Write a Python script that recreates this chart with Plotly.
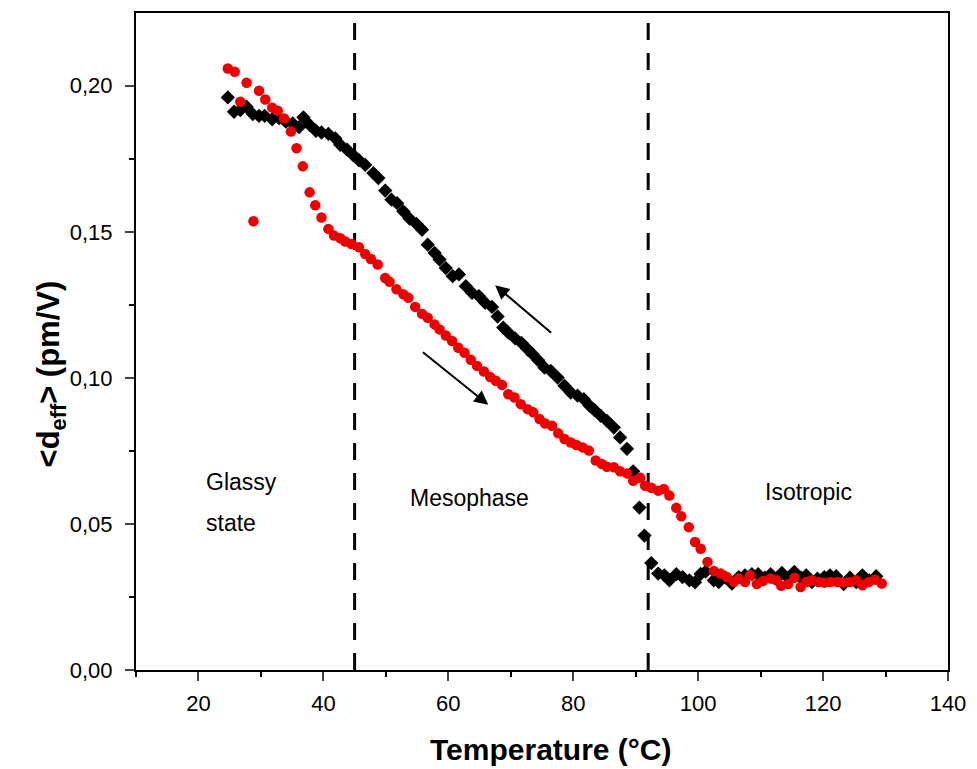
import plotly.graph_objects as go

# Cooling run (black diamonds): temperature (°C) and <d_eff> (pm/V)
cool_T = [24.7, 25.7, 26.7, 27.7, 28.7, 29.7, 30.6, 31.8, 32.9, 34.0, 35.1, 36.1, 36.8, 37.8,
          38.8, 39.7, 40.8, 41.9, 42.7, 43.8, 44.8, 45.7, 46.7, 48.0, 48.8, 49.9, 50.9, 51.8,
          52.8, 53.8, 54.9, 55.8, 56.7, 57.8, 58.6, 59.6, 60.7, 61.7, 62.8, 63.8, 64.9, 65.9,
          67.0, 67.9, 68.8, 69.6, 70.7, 71.7, 72.7, 73.5, 74.4, 75.4, 76.4, 77.5, 78.6, 79.6,
          80.7, 81.7, 82.6, 83.4, 84.4, 85.4, 86.5, 87.5, 88.6, 89.6, 90.6, 91.4, 92.5, 93.6,
          94.6, 95.4, 96.5, 97.5, 98.6, 99.5, 100.4, 101.2, 102.5, 103.3, 104.4, 105.4, 106.5,
          107.5, 108.6, 109.6, 110.7, 111.6, 112.5, 113.4, 114.4, 115.4, 116.5, 117.3, 118.2,
          119.1, 120.2, 121.1, 122.1, 123.3, 124.3, 125.3, 126.3, 127.4, 128.5]
cool_d = [0.1960, 0.1911, 0.1917, 0.1928, 0.1903, 0.1897, 0.1897, 0.1885, 0.1889, 0.1877, 0.1871,
          0.1858, 0.1892, 0.1866, 0.1846, 0.1840, 0.1835, 0.1820, 0.1798, 0.1781, 0.1762, 0.1745,
          0.1729, 0.1701, 0.1684, 0.1641, 0.1610, 0.1598, 0.1570, 0.1545, 0.1527, 0.1507, 0.1456,
          0.1428, 0.1405, 0.1376, 0.1348, 0.1354, 0.1314, 0.1291, 0.1280, 0.1257, 0.1243, 0.1210,
          0.1172, 0.1155, 0.1135, 0.1120, 0.1098, 0.1081, 0.1060, 0.1035, 0.1024, 0.1001, 0.0973,
          0.0950, 0.0939, 0.0927, 0.0905, 0.0890, 0.0870, 0.0853, 0.0830, 0.0796, 0.0757, 0.0680,
          0.0556, 0.0460, 0.0366, 0.0330, 0.0324, 0.0307, 0.0328, 0.0318, 0.0307, 0.0300, 0.0329,
          0.0337, 0.0307, 0.0301, 0.0316, 0.0296, 0.0318, 0.0324, 0.0328, 0.0328, 0.0316, 0.0328,
          0.0313, 0.0332, 0.0316, 0.0336, 0.0316, 0.0324, 0.0301, 0.0313, 0.0318, 0.0324, 0.0321,
          0.0294, 0.0316, 0.0301, 0.0324, 0.0307, 0.0321]

# Heating run (red circles)
heat_T = [24.7, 25.8, 26.7, 27.7, 28.8, 29.7, 30.7, 31.8, 32.7, 33.7, 34.8, 35.7, 36.7, 37.8,
          38.7, 39.7, 40.8, 41.7, 42.7, 43.5, 44.5, 45.7, 46.7, 47.6, 48.7, 49.9, 50.6, 51.7,
          52.8, 53.6, 54.7, 55.8, 56.7, 57.8, 58.6, 59.6, 60.6, 61.6, 62.6, 63.6, 64.6, 65.7,
          66.7, 67.6, 68.6, 69.6, 70.6, 71.6, 72.7, 73.6, 74.6, 75.5, 76.6, 77.6, 78.6, 79.6,
          80.5, 81.5, 82.5, 83.6, 84.6, 85.4, 86.5, 87.5, 88.6, 89.6, 90.7, 91.5, 92.5, 93.6,
          94.5, 95.4, 96.5, 97.3, 98.5, 99.5, 100.4, 101.5, 102.5, 103.6, 104.6, 105.7, 106.5,
          107.5, 108.3, 109.4, 110.4, 111.6, 112.5, 113.3, 114.4, 115.4, 116.4, 117.3, 118.2,
          119.3, 120.2, 121.2, 122.3, 123.2, 124.3, 125.3, 126.3, 127.3, 128.3, 129.4]
heat_d = [0.2059, 0.2048, 0.1945, 0.2010, 0.1536, 0.1983, 0.1953, 0.1925, 0.1914, 0.1888, 0.1843,
          0.1786, 0.1724, 0.1635, 0.1591, 0.1549, 0.1510, 0.1487, 0.1478, 0.1467, 0.1458, 0.1447,
          0.1424, 0.1407, 0.1388, 0.1342, 0.1329, 0.1303, 0.1286, 0.1274, 0.1243, 0.1219, 0.1206,
          0.1183, 0.1166, 0.1145, 0.1126, 0.1103, 0.1086, 0.1062, 0.1041, 0.1022, 0.1003, 0.0990,
          0.0976, 0.0944, 0.0933, 0.0910, 0.0893, 0.0882, 0.0859, 0.0844, 0.0836, 0.0810, 0.0791,
          0.0779, 0.0770, 0.0762, 0.0751, 0.0717, 0.0705, 0.0696, 0.0694, 0.0680, 0.0673, 0.0648,
          0.0658, 0.0631, 0.0624, 0.0614, 0.0620, 0.0597, 0.0555, 0.0526, 0.0489, 0.0438, 0.0415,
          0.0370, 0.0339, 0.0330, 0.0318, 0.0301, 0.0313, 0.0301, 0.0324, 0.0294, 0.0305, 0.0313,
          0.0307, 0.0288, 0.0294, 0.0316, 0.0284, 0.0301, 0.0307, 0.0301, 0.0299, 0.0301, 0.0301,
          0.0299, 0.0301, 0.0307, 0.0290, 0.0301, 0.0309, 0.0296]

# Phase boundaries (°C)
transitions = [45, 92]

x_ticks = [20, 40, 60, 80, 100, 120, 140]
y_ticks = [0.00, 0.05, 0.10, 0.15, 0.20]

FONT = "Liberation Sans, Arial, sans-serif"

fig = go.Figure()

fig.add_trace(go.Scatter(
    x=cool_T, y=cool_d, mode="markers",
    marker=dict(symbol="diamond", size=11, color="black", line=dict(width=0)),
    showlegend=False, cliponaxis=False))
fig.add_trace(go.Scatter(
    x=heat_T, y=heat_d, mode="markers",
    marker=dict(symbol="circle", size=10.5, color="#ee0000", line=dict(width=0)),
    showlegend=False, cliponaxis=False))

for t in transitions:
    fig.add_shape(type="line", x0=t, x1=t, y0=0, y1=1, xref="x", yref="paper",
                  line=dict(color="black", width=3, dash="17px,13px"), layer="below")

# Region labels
region_font = dict(size=23, color="black", family=FONT)
fig.add_annotation(x=20.9, y=0.0645, text="Glassy", showarrow=False, xanchor="left",
                   font=region_font)
fig.add_annotation(x=20.9, y=0.0502, text="state", showarrow=False, xanchor="left",
                   font=region_font)
fig.add_annotation(x=53.6, y=0.0590, text="Mesophase", showarrow=False, xanchor="left",
                   font=region_font)
fig.add_annotation(x=110.4, y=0.0608, text="Isotropic", showarrow=False, xanchor="left",
                   font=region_font)

# Direction arrows: cooling (up-left) and heating (down-right)
fig.add_annotation(x=67.5, y=0.1317, ax=76.7, ay=0.1150, xref="x", yref="y",
                   axref="x", ayref="y", text="", showarrow=True,
                   arrowhead=2, arrowsize=1.4, arrowwidth=2, arrowcolor="black")
fig.add_annotation(x=66.4, y=0.0908, ax=55.7, ay=0.1092, xref="x", yref="y",
                   axref="x", ayref="y", text="", showarrow=True,
                   arrowhead=2, arrowsize=1.4, arrowwidth=2, arrowcolor="black")

# Axis titles
fig.add_annotation(x=-0.105, y=0.451, xref="paper", yref="paper", showarrow=False,
                   text="<b>&lt;d<sub>eff</sub>&gt; (pm/V)</b>", textangle=-90,
                   xanchor="center", yanchor="middle",
                   font=dict(size=31, color="black", family=FONT))
fig.add_annotation(x=0.51, y=-0.121, xref="paper", yref="paper", showarrow=False,
                   text="<b>Temperature (°C)</b>", xanchor="center", yanchor="middle",
                   font=dict(size=30, color="black", family=FONT))

fig.update_layout(
    width=977, height=769,
    margin=dict(l=136, r=20, t=11, b=99),
    paper_bgcolor="white", plot_bgcolor="white",
    separators=",.",
    font=dict(family=FONT, color="black"),
    xaxis=dict(
        range=[10, 140], tickvals=x_ticks, ticks="outside", ticklen=9, tickwidth=2,
        showline=True, linecolor="black", linewidth=2, mirror=True, showgrid=False,
        zeroline=False, tickfont=dict(size=22, family=FONT), ticklabelstandoff=4,
        ticklabeloverflow="allow",
        minor=dict(dtick=10, tick0=0, ticks="outside", ticklen=5, tickwidth=2, tickcolor="black")),
    yaxis=dict(
        range=[0, 0.2249], tickvals=y_ticks, tickformat=".2f", ticks="outside", ticklen=9,
        tickwidth=2, showline=True, linecolor="black", linewidth=2, mirror=True,
        showgrid=False, zeroline=False, tickfont=dict(size=22, family=FONT),
        ticklabelstandoff=8, ticklabeloverflow="allow",
        minor=dict(dtick=0.025, tick0=0, ticks="outside", ticklen=5, tickwidth=2, tickcolor="black")),
)

fig.write_html("out.html")
